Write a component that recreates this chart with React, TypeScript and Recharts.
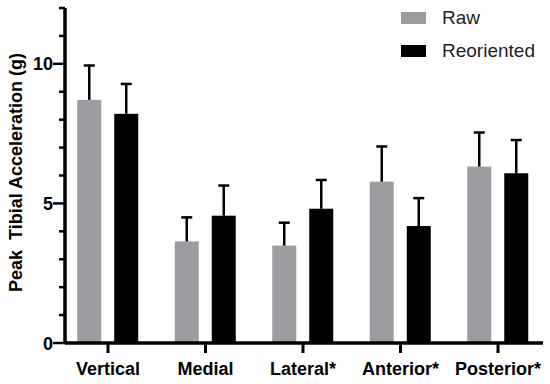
import { Bar, BarChart, XAxis, YAxis } from "recharts";

const categories = ["Vertical", "Medial", "Lateral*", "Anterior*", "Posterior*"];
const rawMean = [8.71, 3.64, 3.49, 5.78, 6.32];
const rawSd = [1.23, 0.86, 0.82, 1.26, 1.22];
const reorMean = [8.21, 4.56, 4.81, 4.19, 6.08];
const reorSd = [1.07, 1.08, 1.03, 1.0, 1.19];
const yTicks = [0, 1, 2, 3, 4, 5, 6, 7, 8, 9, 10, 11, 12];
const yLabelled = [0, 5, 10];
const xTicks = [0, 1, 2, 3, 4];

const series = [
  { key: "raw", err: "rawSd", name: "Raw", color: "#9d9da1" },
  { key: "reoriented", err: "reorSd", name: "Reoriented", color: "#000" },
];

const data = categories.map((name, i) => ({
  idx: i,
  name,
  raw: rawMean[i],
  rawSd: rawSd[i],
  reoriented: reorMean[i],
  reorSd: reorSd[i],
}));

const FONT = "'Liberation Sans', Arial, sans-serif";

/* bar + one-sided (upper) SD whisker, length taken from the bar's own px/unit */
function BarWithError(props: any) {
  const { x, y, width, height, fill, payload, valKey, errKey } = props;
  const perUnit = height / payload[valKey];
  const e = payload[errKey] * perUnit;
  const cx = x + width / 2;
  return (
    <g>
      <rect x={x} y={y} width={width} height={height} fill={fill} />
      <line x1={cx} x2={cx} y1={y} y2={y - e} stroke="#000" strokeWidth={2.5} />
      <line x1={cx - 5.5} x2={cx + 5.5} y1={y - e} y2={y - e} stroke="#000" strokeWidth={2.5} />
    </g>
  );
}

function YTick({ x, y, payload }: any) {
  const major = yLabelled.includes(payload.value);
  return (
    <g>
      <line x1={x - (major ? 12 : 6)} x2={x} y1={y} y2={y} stroke="#000" strokeWidth={2.5} />
      {major && (
        <text
          x={x - 12}
          y={y + 6.5}
          textAnchor="end"
          fontFamily={FONT}
          fontWeight="bold"
          fontSize={18}
          fill="#000"
        >
          {payload.value}
        </text>
      )}
    </g>
  );
}

function XTick({ x, y, payload }: any) {
  return (
    <g>
      <line x1={x} x2={x} y1={y - 10} y2={y + 1} stroke="#000" strokeWidth={3} />
      <text
        x={x}
        y={y + 23}
        textAnchor="middle"
        fontFamily={FONT}
        fontWeight="bold"
        fontSize={18}
        fill="#000"
      >
        {categories[payload.value]}
      </text>
    </g>
  );
}

function YTitle({ viewBox }: any) {
  const cx = 22;
  const cy = viewBox.y + viewBox.height / 2 - 3;
  return (
    <text
      x={cx}
      y={cy}
      transform={`rotate(-90, ${cx}, ${cy})`}
      textAnchor="middle"
      fontFamily={FONT}
      fontWeight="bold"
      fontSize={18}
      fill="#000"
      style={{ whiteSpace: "pre" }}
    >
      Peak  Tibial Acceleration (g)
    </text>
  );
}

function LegendBox() {
  return (
    <div
      style={{
        position: "absolute",
        top: 1,
        left: 401,
        fontFamily: FONT,
        fontSize: 19,
        color: "#222",
      }}
    >
      {series.map((s) => (
        <div key={s.key} style={{ display: "flex", alignItems: "center", height: 33 }}>
          <span
            style={{ width: 25, height: 12, background: s.color, display: "inline-block", marginRight: 16 }}
          />
          <span>{s.name}</span>
        </div>
      ))}
    </div>
  );
}

export default function App() {
  return (
    <div style={{ position: "absolute", left: 0, top: 0, width: 550, height: 384, background: "#fff" }}>
      <BarChart
        width={550}
        height={384}
        data={data}
        margin={{ top: 8, right: 7, left: 0, bottom: 0 }}
        barGap={13}
      >
        <XAxis
          dataKey="idx"
          type="number"
          domain={[-0.441, 4.4615]}
          ticks={xTicks}
          interval={0}
          allowDataOverflow
          height={41}
          axisLine={{ stroke: "#000", strokeWidth: 3.5 }}
          tickLine={false}
          tickSize={9}
          tickMargin={0}
          tick={<XTick />}
        />
        <YAxis
          width={65}
          domain={[0, 12]}
          ticks={yTicks}
          interval={0}
          axisLine={{ stroke: "#000", strokeWidth: 3.5 }}
          tickLine={false}
          tickSize={0}
          tickMargin={0}
          tick={<YTick />}
          label={{ content: <YTitle /> }}
        />
        {series.map((s) => (
          <Bar
            key={s.key}
            dataKey={s.key}
            name={s.name}
            fill={s.color}
            barSize={24}
            isAnimationActive={false}
            shape={(p: any) => <BarWithError {...p} valKey={s.key} errKey={s.err} />}
          />
        ))}
      </BarChart>
      <LegendBox />
    </div>
  );
}
